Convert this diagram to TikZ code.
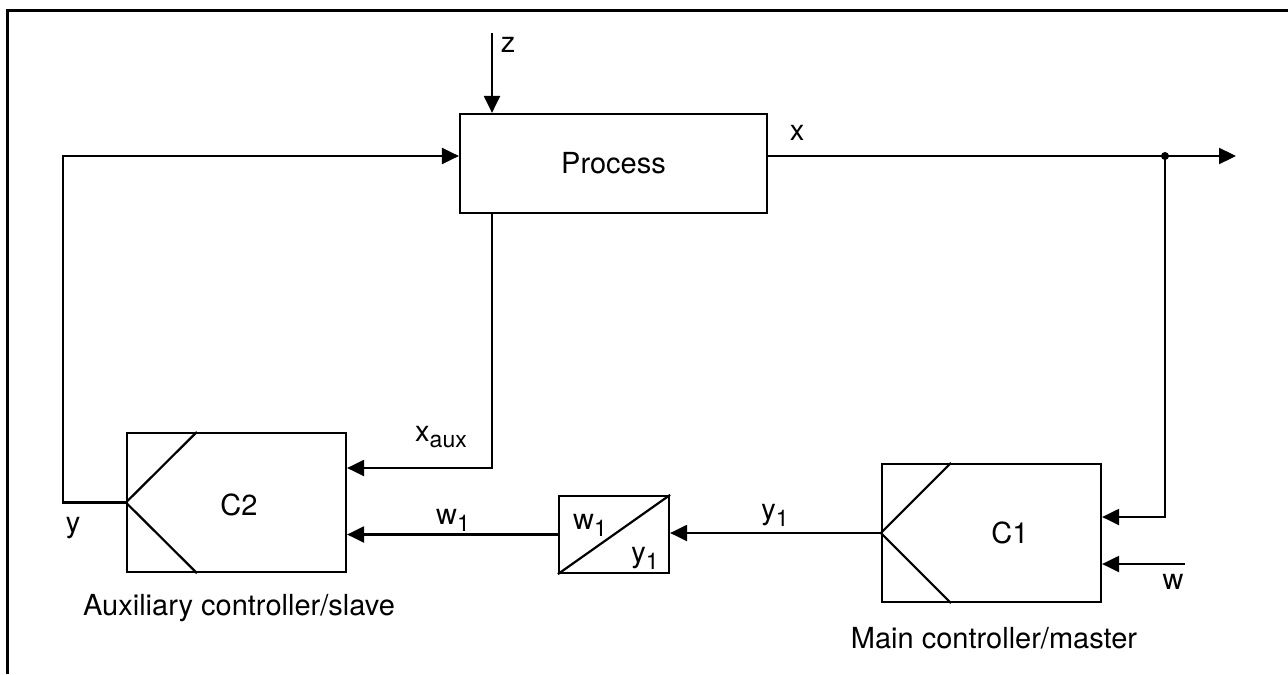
\documentclass[tikz,border=0pt]{standalone}
\usepackage{fontspec}
\setmainfont{TeX Gyre Heros}
\usetikzlibrary{arrows.meta,calc}
\newcommand{\lowsub}[1]{\raisebox{-0.45ex}{\fontsize{11.5}{12}\selectfont #1}}

\begin{document}
\begin{tikzpicture}[x=0.5pt,y=-0.5pt,
    blk/.style={draw, line width=1.1pt, inner sep=0pt},
    sig/.style={line width=1.1pt, -{Triangle[length=8.5pt,width=8pt]}},
    txt/.style={font=\fontsize{14.5}{16}\selectfont, inner sep=0pt}]
  \useasboundingbox (0,0) rectangle (1288,674);
  \draw[line width=1.8pt] (7.5,674) -- (7.5,10.5) -- (1288,10.5);

  % blocks
  \node[blk, txt, minimum width=153.5pt, minimum height=49.5pt] (P) at (613.5,163.5) {Process};
  \node[blk, txt, minimum width=109.5pt, minimum height=69.5pt] (C2) at (236.5,502.5) {};
  \node[blk, txt, minimum width=109.5pt, minimum height=69pt] (C1) at (991.5,533) {};
  \node[blk, txt, minimum width=55pt, minimum height=38.5pt] (Cv) at (614,534.5) {};

  \draw[line width=1.1pt] ($(C2.north west)+(71,0)$) -- (C2.west) -- ($(C2.south west)+(71,0)$);
  \draw[line width=1.1pt] ($(C1.north west)+(70,0)$) -- (C1.west) -- ($(C1.south west)+(70,0)$);
  \draw[line width=1.1pt] (Cv.south west) -- (Cv.north east);

  \node[txt] (C2t) at (239,505) {C2};
  \node[txt] (C1t) at (1010,533) {C1};
  \node[txt] (Cvw) at (590,525) {w\lowsub{1}};
  \node[txt] (Cvy) at (645,558) {y\lowsub{1}};

  % points
  \coordinate (zst) at (492,33);
  \coordinate (Pin) at ($(P.west)+(0,-7.5)$);
  \coordinate (Pout) at ($(P.east)+(0,-7.5)$);
  \coordinate (Lc) at (63,156);
  \coordinate (br) at (1165,156);
  \coordinate (xend) at (1236,156);
  \coordinate (wst) at (1185,564);

  % signals
  \draw[sig] (zst) -- (zst |- P.north);
  \draw[sig] (C2.west) -| (Lc) -- (Pin);
  \draw[sig] (Pout) -- (xend);
  \fill (br) circle (2pt);
  \draw[sig] (br) |- ($(C1.east)+(0,-16)$);
  \draw[sig] (wst) -- (wst -| C1.east);
  \draw[sig] (C1.west) -- (C1.west -| Cv.east);
  \draw[sig] (Cv.west) -- (Cv.west -| C2.east);
  \draw[sig] (zst |- P.south) |- ($(C2.east)+(0,-34.5)$);

  % labels
  \node[txt] (lz) at (508,45) {z};
  \node[txt] (lx) at (797,133) {x};
  \node[txt] (lxa) at (441,437) {x\lowsub{aux}};
  \node[txt] (ly) at (73,528) {y};
  \node[txt] (lw1) at (453,520) {w\lowsub{1}};
  \node[txt] (ly1) at (775,515) {y\lowsub{1}};
  \node[txt] (lw) at (1173,582) {w};
  \node[txt] (laux) at (239,608) {Auxiliary controller/slave};
  \node[txt] (lmain) at (994,638) {Main controller/master};
\end{tikzpicture}
\end{document}
